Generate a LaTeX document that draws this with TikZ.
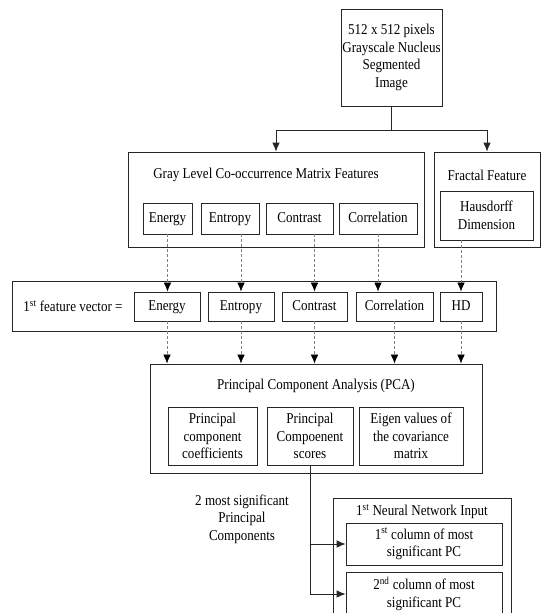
\documentclass[tikz,border=0pt]{standalone}
\usepackage{fontspec}
\setmainfont[FakeStretch=0.87]{Liberation Serif}
\usetikzlibrary{arrows.meta}
\tikzstyle{box}=[draw=black!85,line width=0.8pt,inner sep=0pt,align=center,font=\fontsize{15}{17.5}\selectfont]
\tikzstyle{cell}=[box,text height=10.5pt,text depth=3.5pt]
\tikzstyle{txt}=[inner sep=0pt,align=center,font=\fontsize{15}{17.5}\selectfont]
\tikzstyle{line}=[draw=black!85,line width=0.8pt]
\tikzstyle{link}=[draw=black!85,line width=0.8pt,-{Latex[length=9pt,width=7.5pt]}]
\tikzstyle{feed}=[draw=black!50,line width=0.6pt,dash pattern=on 3pt off 2pt,-{Latex[length=9pt,width=7.5pt,black]}]

\begin{document}
\begin{tikzpicture}[x=1pt,y=-1pt]
    \useasboundingbox (0,0) rectangle (544,613);
    \clip (0,0) rectangle (544,613);
    % First the input image and the two feature groups
    \node[box,minimum width=101,minimum height=97] (img) at (391.5,57.5) {512 x 512 pixels\\Grayscale Nucleus\\Segmented\\Image};
    \node[box,minimum width=296,minimum height=95] (glcm) at (276,199.5) {};
    \node[txt] (glcmtitle) at (266,175) {Gray Level Co-occurrence Matrix Features};
    \node[box,minimum width=106,minimum height=95] (fractal) at (487,199.5) {};
    \node[txt] (fractaltitle) at (487,175) {Fractal Feature};
    \node[box,minimum width=93,minimum height=49] (hausdorff) at (486.5,215.5) {Hausdorff\\Dimension};
    \foreach \x/\w/\name/\txt in {167.5/49/genergy/Energy, 230/58/gentropy/Entropy, 299.5/67/gcontrast/Contrast, 378/78/gcorrelation/Correlation}
        \node[cell,minimum width=\w,minimum height=31] (\name) at (\x,218.5) {\txt};
    % Split the image to both groups
    \coordinate (split) at ([yshift=-24pt]img.south);
    \path[line] (img.south) -- (split);
    \path[link] (split) -| (glcm.north);
    \path[link] (split) -| (fractal.north);
    % The feature vector
    \node[box,minimum width=484,minimum height=50] (fvec) at (254,306) {};
    \node[txt] (fvectitle) at (73,306) {1\textsuperscript{st} feature vector =};
    \foreach \x/\w/\name/\txt in {167/66/fenergy/Energy, 241/66/fentropy/Entropy, 314.5/65/fcontrast/Contrast, 394.5/77/fcorrelation/Correlation, 461/42/fhd/HD}
        \node[cell,minimum width=\w,minimum height=29] (\name) at (\x,306.5) {\txt};
    \path[feed] (genergy.south) -- (genergy.south |- fenergy.north);
    \path[feed] (gentropy.south -| fentropy.north) -- (fentropy.north);
    \path[feed] (gcontrast.south -| fcontrast.north) -- (fcontrast.north);
    \path[feed] (gcorrelation.south) -- (gcorrelation.south |- fcorrelation.north);
    \path[feed] (hausdorff.south -| fhd.north) -- (fhd.north);
    % Principal component analysis
    \node[box,minimum width=332,minimum height=109] (pca) at (316,418.5) {};
    \node[txt] (pcatitle) at (316,386) {Principal Component Analysis (PCA)};
    \foreach \x/\w/\name/\txt in {212.5/89/coeff/{Principal\\component\\coefficients}, 310/86/scores/{Principal\\Compoenent\\scores}, 411/104/eigen/{Eigen values of\\the covariance\\matrix}}
        \node[box,minimum width=\w,minimum height=58] (\name) at (\x,436) {\txt};
    \foreach \name in {fenergy,fentropy,fcontrast,fcorrelation,fhd}
        \path[feed] (\name.south) -- (\name.south |- pca.north);
    % Neural network input
    \node[txt] (pcnote) at (242,519) {2 most significant\\Principal\\Components};
    \node[box,minimum width=178,minimum height=140] (nn) at (422,568) {};
    \node[txt] (nntitle) at (422,512) {1\textsuperscript{st} Neural Network Input};
    \node[box,minimum width=156,minimum height=42] (col1) at (424,544) {1\textsuperscript{st} column of most\\significant PC};
    \node[box,minimum width=156,minimum height=44] (col2) at (424,594) {2\textsuperscript{nd} column of most\\significant PC};
    \path[link] (scores.south) |- (col2.west);
    \path[link] (scores.south |- col1.west) -- (col1.west);
\end{tikzpicture}
\end{document}
